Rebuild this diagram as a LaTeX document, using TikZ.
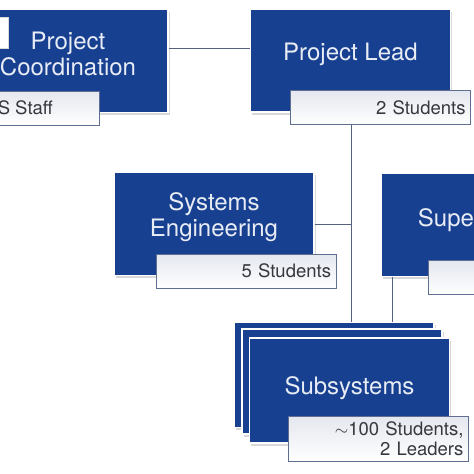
\documentclass[tikz,border=0pt]{standalone}
\usepackage{fontspec}
\setmainfont{TeX Gyre Heros}
\usetikzlibrary{shadows}
\definecolor{unitblue}{RGB}{24,64,145}
\definecolor{unitink}{RGB}{232,236,245}
\definecolor{tagedge}{RGB}{95,110,145}
\definecolor{tagtop}{RGB}{228,231,239}
\definecolor{tagink}{RGB}{55,55,62}
\definecolor{linkgray}{RGB}{85,98,125}
\tikzset{unit/.style = {rectangle, fill=unitblue, draw=white, line width=1.2pt,
                        minimum width=200pt, minimum height=103pt,
                        inner sep=0pt, align=center, text=unitink,
                        font=\fontsize{24}{26}\selectfont, text depth=#1,
                        drop shadow={shadow xshift=1.5pt, shadow yshift=-2.5pt,
                                     opacity=0.3}},
         unit/.default=16pt}
\tikzset{tag/.style = {rectangle, draw=tagedge, line width=0.9pt,
                       top color=tagtop, bottom color=white,
                       minimum width=180pt, minimum height=34pt,
                       inner xsep=5pt, inner ysep=0pt, text width=170pt,
                       align=right, text=tagink,
                       font=\fontsize{18.5}{20.5}\selectfont}}
\tikzset{tagnote/.style = {inner sep=0pt, text=tagink,
                           font=\fontsize{18.5}{20}\selectfont}}
\tikzset{link/.style = {draw=linkgray, line width=0.7pt}}

\begin{document}
\begin{tikzpicture}[x=1pt, y=-1pt]
  \useasboundingbox (0,0) rectangle (474,474);
  \clip (0,0) rectangle (474,474);
  \fill[white] (0,0) rectangle (474,474);
  % top row
  \node[unit=14pt] (coord) at (68,61) {Project\\Coordination};
  \draw[fill=white, draw=gray!30] (-12,17) rectangle (8,48);
  \node[tag] (coord-tag) at (9,108) {};
  \node[tagnote, anchor=east] (coord-staff) at (53,108) {S Staff};
  \node[unit=17pt] (lead) at (350.5,60.5) {Project Lead};
  \node[tag] (lead-tag) at (380.5,107.5) {2 Students};
  % middle row
  \node[unit=18pt] (sys) at (214,224) {Systems\\Engineering};
  \node[tag] (sys-tag) at (246,271) {5 Students};
  \node[unit=14pt] (sup) at (481,225) {Supervision};
  \node[tag] (sup-tag) at (518,277.5) {};
  % stacked subsystems
  \node[unit, minimum height=105pt] (sub-back) at (334,375) {};
  \node[unit, minimum height=105pt] (sub-mid) at (342,381.5) {};
  \node[unit=10pt, minimum height=105pt] (sub-front) at (349.5,390.5) {Subsystems};
  \node[tag, minimum height=45pt] (sub-tag) at (378.5,438.5)
    {$\sim$100 Students,\\2 Leaders};
  % connectors
  \coordinate (spine) at (351,0);
  \coordinate (drop) at (392,0);
  \coordinate (tie) at (0,48);
  \draw[link] (coord.east |- tie) -- (lead.west |- tie);
  \draw[link] (lead-tag.south -| spine) -- (sub-back.north -| spine);
  \draw[link] (sys.east) -- (sys.east -| spine);
  \draw[link] (sup.south -| drop) -- (sub-back.north -| drop);
\end{tikzpicture}
\end{document}
